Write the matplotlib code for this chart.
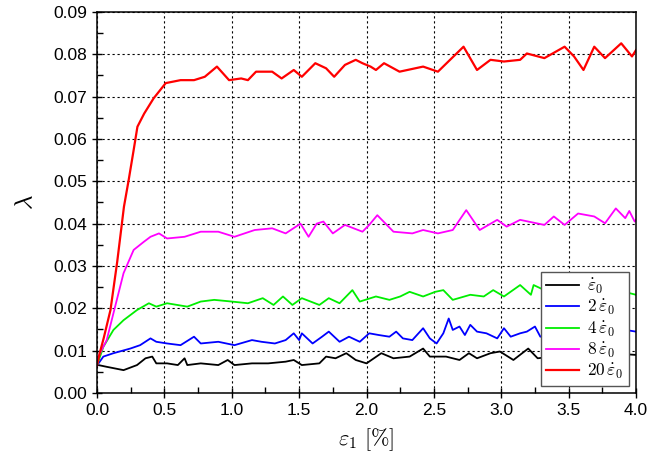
import numpy as np
import matplotlib
matplotlib.use("Agg")
import matplotlib.pyplot as plt
from matplotlib.ticker import MultipleLocator, FormatStrFormatter

plt.rcParams['font.family'] = ['Liberation Sans', 'DejaVu Sans']
plt.rcParams['mathtext.fontset'] = 'cm'

# values (strain in %, lambda)
x_red = [0.0, 0.02, 0.05, 0.1, 0.15, 0.2, 0.235, 0.27, 0.3, 0.35, 0.42, 0.51, 0.62, 0.72, 0.8, 0.89,
         0.98, 1.07, 1.12, 1.18, 1.3, 1.37, 1.46, 1.52, 1.62, 1.7, 1.76, 1.84, 1.92, 1.97, 2.03,
         2.07, 2.13, 2.245, 2.42, 2.53, 2.62, 2.72, 2.82, 2.92, 3.02, 3.14, 3.19, 3.32, 3.47,
         3.54, 3.61, 3.69, 3.77, 3.89, 3.97, 4.0]
y_red = [0.0065, 0.0094, 0.013, 0.0196, 0.031, 0.044, 0.0503, 0.057, 0.0629, 0.066, 0.0696, 0.0732,
         0.0739, 0.0739, 0.0747, 0.0771, 0.0739, 0.0743, 0.0739, 0.0759, 0.0759, 0.0743, 0.0763,
         0.0747, 0.0779, 0.0767, 0.0747, 0.0775, 0.0787, 0.0779, 0.0771, 0.0763, 0.0779, 0.0759,
         0.0771, 0.0759, 0.0787, 0.0818, 0.0763, 0.0787, 0.0783, 0.0787, 0.0802, 0.0791, 0.0818,
         0.0795, 0.0763, 0.0818, 0.0791, 0.0826, 0.0795, 0.081]

x_mag = [0.0, 0.01, 0.072, 0.147, 0.197, 0.272, 0.347, 0.397, 0.46, 0.52, 0.65, 0.77, 0.9, 1.02,
         1.17, 1.3, 1.4, 1.51, 1.57, 1.63, 1.68, 1.75, 1.84, 1.97, 2.02, 2.08, 2.2, 2.34, 2.42,
         2.53, 2.64, 2.74, 2.84, 2.97, 3.04, 3.14, 3.32, 3.39, 3.47, 3.57, 3.69, 3.77, 3.85,
         3.92, 3.95, 3.99, 4.0]
y_mag = [0.0065, 0.0086, 0.0125, 0.022, 0.0283, 0.0338, 0.0357, 0.0369, 0.0377, 0.0365, 0.0369,
         0.0381, 0.0381, 0.0369, 0.0385, 0.0389, 0.0377, 0.04, 0.0369, 0.04, 0.0405, 0.0377,
         0.0397, 0.0381, 0.0397, 0.042, 0.0381, 0.0377, 0.0385, 0.0377, 0.0385, 0.0432, 0.0385,
         0.0409, 0.0393, 0.0409, 0.0397, 0.0417, 0.0397, 0.0424, 0.0417, 0.0401, 0.0436, 0.0413,
         0.043, 0.0405, 0.0409]

x_grn = [0.0, 0.047, 0.122, 0.197, 0.297, 0.385, 0.44, 0.52, 0.67, 0.77, 0.87, 1.0, 1.12, 1.23,
         1.31, 1.38, 1.45, 1.52, 1.65, 1.72, 1.8, 1.895, 1.95, 2.03, 2.07, 2.17, 2.25, 2.32,
         2.42, 2.51, 2.57, 2.64, 2.77, 2.87, 2.94, 3.02, 3.14, 3.22, 3.24, 3.32, 3.5, 3.7,
         3.9, 4.0]
y_grn = [0.0065, 0.0109, 0.0149, 0.0172, 0.0196, 0.0212, 0.0204, 0.0212, 0.0204, 0.0216, 0.022,
         0.0216, 0.0212, 0.0224, 0.0208, 0.0228, 0.0208, 0.0224, 0.0208, 0.0224, 0.0212, 0.0243,
         0.0216, 0.0224, 0.0228, 0.022, 0.0228, 0.0239, 0.0228, 0.0239, 0.0243, 0.022, 0.0232,
         0.0228, 0.0243, 0.0228, 0.0255, 0.0232, 0.0255, 0.0243, 0.0238, 0.0245, 0.024, 0.0232]

x_blu = [0.0, 0.047, 0.122, 0.247, 0.32, 0.397, 0.44, 0.52, 0.62, 0.72, 0.77, 0.9, 1.02, 1.15,
         1.22, 1.32, 1.4, 1.46, 1.5, 1.52, 1.6, 1.67, 1.72, 1.8, 1.87, 1.95, 2.02, 2.09, 2.17,
         2.22, 2.27, 2.34, 2.42, 2.47, 2.52, 2.57, 2.61, 2.64, 2.69, 2.73, 2.77, 2.82, 2.89,
         2.97, 3.02, 3.07, 3.14, 3.19, 3.25, 3.29, 3.5, 3.7, 3.9, 4.0]
y_blu = [0.0065, 0.0086, 0.0094, 0.0105, 0.0113, 0.0129, 0.0121, 0.0117, 0.0113, 0.0133, 0.0117,
         0.0121, 0.0113, 0.0125, 0.0121, 0.0117, 0.0125, 0.0141, 0.0125, 0.0141, 0.0117, 0.0133,
         0.0145, 0.0121, 0.0133, 0.0121, 0.0141, 0.0137, 0.0133, 0.0145, 0.0129, 0.0125, 0.0153,
         0.0129, 0.0117, 0.0141, 0.0176, 0.0149, 0.0157, 0.0137, 0.0161, 0.0145, 0.0141, 0.0129,
         0.0153, 0.0133, 0.0141, 0.0145, 0.0157, 0.0133, 0.0145, 0.014, 0.015, 0.0145]

x_blk = [0.0, 0.01, 0.07, 0.197, 0.297, 0.36, 0.41, 0.44, 0.52, 0.6, 0.65, 0.67, 0.77, 0.9, 0.97,
         1.02, 1.15, 1.27, 1.4, 1.46, 1.52, 1.65, 1.7, 1.77, 1.85, 1.92, 2.0, 2.11, 2.2, 2.32,
         2.42, 2.47, 2.59, 2.69, 2.76, 2.82, 2.92, 2.99, 3.09, 3.2, 3.27, 3.5, 3.7, 3.9, 4.0]
y_blk = [0.0065, 0.0066, 0.0062, 0.0054, 0.0066, 0.0082, 0.0086, 0.007, 0.007, 0.0066, 0.0082,
         0.0066, 0.007, 0.0066, 0.0078, 0.0066, 0.007, 0.007, 0.0074, 0.0078, 0.0066, 0.007,
         0.0086, 0.0082, 0.0094, 0.0078, 0.007, 0.0094, 0.0082, 0.0086, 0.0105, 0.0086, 0.0086,
         0.0078, 0.0094, 0.0082, 0.0094, 0.0098, 0.0078, 0.0105, 0.0082, 0.009, 0.0088, 0.0092,
         0.009]

labels = [r'$\dot{\varepsilon}_0$', r'$2\,\dot{\varepsilon}_0$', r'$4\,\dot{\varepsilon}_0$',
          r'$8\,\dot{\varepsilon}_0$', r'$20\,\dot{\varepsilon}_0$']

fig = plt.figure(figsize=(6.51, 4.61), dpi=100)
ax = fig.add_axes([0.149, 0.1475, 0.828, 0.8265])

ax.plot(x_blk, y_blk, color='black', lw=1.3, label=labels[0])
ax.plot(x_blu, y_blu, color='blue', lw=1.3, label=labels[1])
ax.plot(x_grn, y_grn, color='#00ee00', lw=1.3, label=labels[2])
ax.plot(x_mag, y_mag, color='magenta', lw=1.3, label=labels[3])
ax.plot(x_red, y_red, color='red', lw=1.6, label=labels[4])

ax.set_xlim(0, 4.0)
ax.set_ylim(0, 0.09)
ax.xaxis.set_major_locator(MultipleLocator(0.5))
ax.xaxis.set_minor_locator(MultipleLocator(0.25))
ax.yaxis.set_major_locator(MultipleLocator(0.01))
ax.yaxis.set_minor_locator(MultipleLocator(0.005))
ax.xaxis.set_major_formatter(FormatStrFormatter('%.1f'))
ax.yaxis.set_major_formatter(FormatStrFormatter('%.2f'))
ax.tick_params(which='major', direction='inout', length=7, width=1, labelsize=12.5)
ax.tick_params(which='minor', direction='in', length=4, width=1)
ax.grid(True, which='major', color='black', linestyle=(0, (2, 2.5)), lw=0.8)
for s in ax.spines.values():
    s.set_linewidth(1.1)

ax.set_xlabel(r'$\varepsilon_1\ [\%]$', fontsize=16, labelpad=6)
ax.set_ylabel(r'$\lambda$', fontsize=18, labelpad=12)

leg = ax.legend(loc='lower right', fontsize=12.5, fancybox=False, framealpha=1,
                edgecolor='#555555', handlelength=1.9, borderpad=0.3, labelspacing=0.12,
                handletextpad=0.5, borderaxespad=0.4)
leg.get_frame().set_linewidth(1.0)

fig.savefig('out.png', dpi=100)
